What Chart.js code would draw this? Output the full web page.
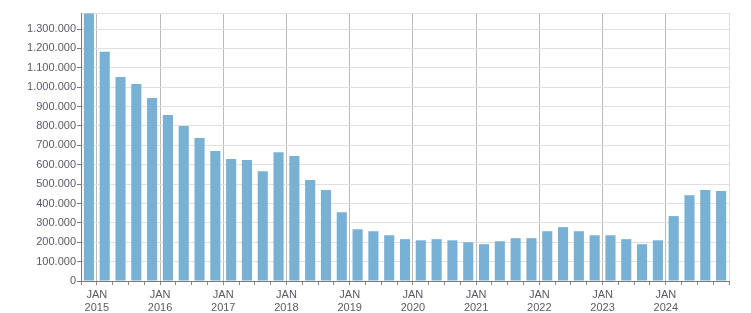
<!DOCTYPE html>
<html>
<head>
<meta charset="utf-8">
<script src="https://cdn.jsdelivr.net/npm/chart.js@4.4.1/dist/chart.umd.min.js"></script>
<style>
  html, body { margin: 0; padding: 0; background: #fff; }
  canvas { display: block; }
</style>
</head>
<body>
<canvas id="myChart" width="751" height="313"></canvas>
<script>
// ----------- Data ----------- //
const quarters = [
    '2014 Q4',
    '2015 Q1', '2015 Q2', '2015 Q3', '2015 Q4',
    '2016 Q1', '2016 Q2', '2016 Q3', '2016 Q4',
    '2017 Q1', '2017 Q2', '2017 Q3', '2017 Q4',
    '2018 Q1', '2018 Q2', '2018 Q3', '2018 Q4',
    '2019 Q1', '2019 Q2', '2019 Q3', '2019 Q4',
    '2020 Q1', '2020 Q2', '2020 Q3', '2020 Q4',
    '2021 Q1', '2021 Q2', '2021 Q3', '2021 Q4',
    '2022 Q1', '2022 Q2', '2022 Q3', '2022 Q4',
    '2023 Q1', '2023 Q2', '2023 Q3', '2023 Q4',
    '2024 Q1', '2024 Q2', '2024 Q3', '2024 Q4'
];
const values = [
    1380000,
    1183000, 1053000, 1017000, 945000,
    857000, 800000, 738000, 671000,
    629000, 624000, 567000, 665000,
    645000, 521000, 469000, 355000,
    267000, 257000, 236000, 216000,
    210000, 216000, 210000, 200000,
    190000, 205000, 221000, 221000,
    257000, 278000, 257000, 236000,
    236000, 216000, 190000, 210000,
    335000, 443000, 469000, 464000
];
const monthLabel = 'JAN';
const yTicks = [0, 100000, 200000, 300000, 400000, 500000, 600000,
                700000, 800000, 900000, 1000000, 1100000, 1200000, 1300000];
const yMax = 1383000;

// ----------- Helpers ----------- //
const fmt = v => String(Math.round(v)).replace(/\B(?=(\d{3})+(?!\d))/g, '.');
const isJan = i => quarters[i] !== undefined && quarters[i].endsWith('Q1');

// ----------- Chart ----------- //
Chart.defaults.font.family = '"Liberation Sans", Arial, sans-serif';
Chart.defaults.font.size = 11;
Chart.defaults.color = '#5a5a66';

const ctx = document.getElementById('myChart');
const chart = new Chart(ctx, {
    type: 'bar',
    data: {
        labels: quarters,
        datasets: [{
            data: values,
            backgroundColor: '#78b1d4',
            borderWidth: 0,
            barPercentage: 0.64,
            categoryPercentage: 1.0
        }]
    },
    options: {
        responsive: false,
        animation: false,
        layout: { padding: { top: 13, right: 22, left: 0, bottom: 0 } },
        plugins: {
            legend: { display: false },
            tooltip: { enabled: false }
        },
        scales: {
            x: {
                offset: true,
                grid: {
                    offset: true,
                    color: c => c.index === undefined ? '#dddddd' : (isJan(c.index) ? '#b9b9b9' : 'rgba(0,0,0,0)'),
                    tickColor: '#888',
                    tickLength: 4
                },
                border: { color: '#7a7a7a', width: 1 },
                ticks: {
                    autoSkip: false,
                    maxRotation: 0,
                    padding: 4,
                    labelOffset: -7.9,
                    font: { lineHeight: 1.15 },
                    callback: (value, index) => isJan(index) ? [monthLabel, quarters[index].slice(0, 4)] : ''
                },
                afterFit: scale => { scale.height = 32; }
            },
            y: {
                min: 0,
                max: yMax,
                afterBuildTicks: scale => {
                    scale.ticks = yTicks.concat([yMax]).map(v => ({ value: v }));
                },
                grid: {
                    color: '#e0e0e0',
                    tickColor: c => c.tick && c.tick.value === yMax ? 'rgba(0,0,0,0)' : '#7a7a7a',
                    tickLength: 4
                },
                border: { color: '#7a7a7a', width: 1 },
                ticks: {
                    padding: 1,
                    callback: v => v === yMax ? '' : fmt(v)
                },
                afterFit: scale => { scale.width = 81; }
            }
        }
    }
});
</script>
</body>
</html>
